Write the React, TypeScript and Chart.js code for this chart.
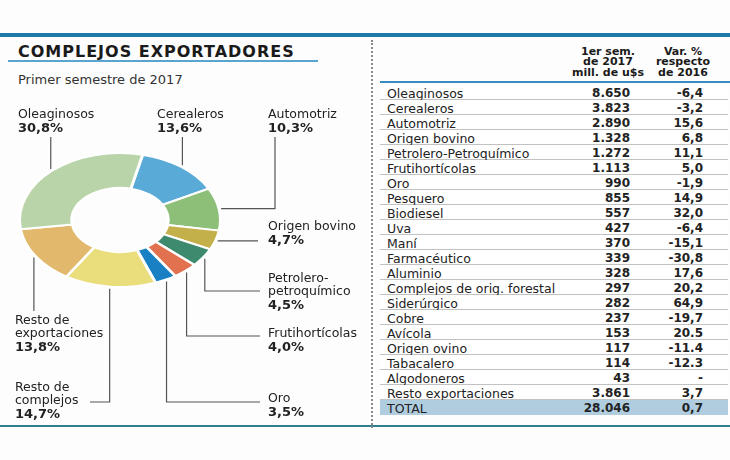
import React, { useEffect, useRef } from "react";
import { Chart, registerables } from "chart.js";

Chart.register(...registerables);

// ---------- DATA ----------
const sliceNames: string[][] = [
  ["Cerealeros"],
  ["Automotriz"],
  ["Origen bovino"],
  ["Petrolero-", "petroquímico"],
  ["Frutihortícolas"],
  ["Oro"],
  ["Resto de", "complejos"],
  ["Resto de", "exportaciones"],
  ["Oleaginosos"],
];
const sliceShares: number[] = [13.6, 10.3, 4.7, 4.5, 4.0, 3.5, 14.7, 13.8, 30.8];

const tableNames: string[] = [
  "Oleaginosos", "Cerealeros", "Automotriz", "Origen bovino", "Petrolero-Petroquímico",
  "Frutihortícolas", "Oro", "Pesquero", "Biodiesel", "Uva", "Maní", "Farmacéutico",
  "Aluminio", "Complejos de orig. forestal", "Siderúrgico", "Cobre", "Avícola",
  "Origen ovino", "Tabacalero", "Algodoneros", "Resto exportaciones",
];
const tableValues: number[] = [
  8650, 3823, 2890, 1328, 1272, 1113, 990, 855, 557, 427, 370, 339, 328, 297, 282,
  237, 153, 117, 114, 43, 3861,
];
const tableVar: string[] = [
  "-6,4", "-3,2", "15,6", "6,8", "11,1", "5,0", "-1,9", "14,9", "32,0", "-6,4", "-15,1",
  "-30,8", "17,6", "20,2", "64,9", "-19,7", "20.5", "-11.4", "-12.3", "-", "3,7",
];
const totalValue = 28046;
const totalVar = "0,7";

const headerCol1: string[] = ["1er sem.", "de 2017", "mill. de u$s"];
const headerCol2: string[] = ["Var. %", "respecto", "de 2016"];

// ---------- STYLE / LAYOUT ----------
const sliceColors = [
  "#5aaad8", "#8ebf78", "#c4b04a", "#3d8a6e", "#e2714f", "#1a80c4", "#e9dd7c", "#e2b96c", "#b8d4a8",
];
const FONT = '"DejaVu Sans", sans-serif';
const SQUASH = 0.667;

type Lay = { x: number; y: number; route: string; a?: number; b?: number };
const labelLayout: Lay[] = [
  { x: 157, y: 115, route: "up", a: 137 },
  { x: 268, y: 115, route: "rightUp", a: 275, b: 137 },
  { x: 268, y: 227, route: "right", a: 258 },
  { x: 268, y: 279, route: "downRight", a: 291, b: 260 },
  { x: 268, y: 334, route: "downRight", a: 336, b: 260 },
  { x: 268, y: 399, route: "downRight", a: 402, b: 260 },
  { x: 15, y: 388, route: "downLeft", a: 402, b: 90 },
  { x: 15, y: 321, route: "down", a: 311 },
  { x: 18, y: 115, route: "up", a: 137 },
];

const fmtThousands = (v: number) => v.toString().replace(/\B(?=(\d{3})+(?!\d))/g, ".");
const fmtPct = (v: number) => v.toFixed(1).replace(".", ",") + "%";

const ellipsePlugin = {
  id: "ellipseLabels",
  beforeDatasetsDraw(chart: any) {
    const arc = chart.getDatasetMeta(0).data[0];
    const ctx = chart.ctx;
    ctx.save();
    ctx.translate(arc.x, arc.y);
    ctx.scale(1, SQUASH);
    ctx.translate(-arc.x, -arc.y);
  },
  afterDatasetsDraw(chart: any) {
    const ctx = chart.ctx;
    ctx.restore();
    const arcs = chart.getDatasetMeta(0).data;
    ctx.save();
    ctx.strokeStyle = "#555";
    ctx.lineWidth = 1.2;
    arcs.forEach((arc: any, i: number) => {
      const lay = labelLayout[i];
      const mid = (arc.startAngle + arc.endAngle) / 2;
      const R = arc.outerRadius;
      const ax = arc.x + Math.cos(mid) * (R + 2);
      const ay = arc.y + Math.sin(mid) * (R * SQUASH + 2);
      ctx.beginPath();
      if (lay.route === "up") {
        ctx.moveTo(ax, ay);
        ctx.lineTo(ax, lay.a!);
      } else if (lay.route === "rightUp") {
        ctx.moveTo(ax, ay);
        ctx.lineTo(lay.a!, ay);
        ctx.lineTo(lay.a!, lay.b!);
      } else if (lay.route === "right") {
        ctx.moveTo(ax, ay);
        ctx.lineTo(lay.a!, ay);
      } else if (lay.route === "downRight" || lay.route === "downLeft") {
        ctx.moveTo(ax, ay);
        ctx.lineTo(ax, lay.a!);
        ctx.lineTo(lay.b!, lay.a!);
      } else if (lay.route === "down") {
        ctx.moveTo(ax, ay);
        ctx.lineTo(ax, lay.a!);
      }
      ctx.stroke();

      ctx.fillStyle = "#222";
      ctx.textBaseline = "middle";
      ctx.textAlign = "left";
      const names = sliceNames[i];
      let y = lay.y;
      ctx.font = `12.5px ${FONT}`;
      names.forEach((n) => {
        ctx.fillText(n, lay.x, y);
        y += 12.5;
      });
      ctx.font = `bold 13px ${FONT}`;
      ctx.fillText(fmtPct(sliceShares[i]), lay.x, y + 1.5);
    });
    ctx.restore();
  },
};

export default function App() {
  const ref = useRef<HTMLCanvasElement>(null);
  useEffect(() => {
    if (!ref.current) return;
    const chart = new Chart(ref.current, {
      type: "doughnut",
      data: {
        labels: sliceNames.map((n) => n.join(" ")),
        datasets: [
          {
            data: sliceShares,
            backgroundColor: sliceColors,
            borderColor: "#ffffff",
            borderWidth: 3,
            hoverOffset: 0,
          },
        ],
      },
      options: {
        animation: false,
        responsive: false,
        devicePixelRatio: 1,
        cutout: "48%",
        rotation: 13,
        layout: { padding: { left: 18, right: 148, top: 118, bottom: 108 } },
        plugins: { legend: { display: false }, tooltip: { enabled: false } },
        events: [],
      },
      plugins: [ellipsePlugin],
    });
    return () => chart.destroy();
  }, []);

  const rowTop = 85;
  const rowH = 15;

  return (
    <div
      style={{
        position: "absolute",
        left: 0,
        top: 0,
        width: 730,
        height: 460,
        background: "#fdfdfd",
        fontFamily: FONT,
        color: "#222",
        overflow: "hidden",
      }}
    >
      <div style={{ position: "absolute", left: 0, top: 33, width: 730, height: 4, background: "#1d7aa8" }} />
      <div style={{ position: "absolute", left: 0, top: 425, width: 730, height: 2, background: "#2f7f8f" }} />
      <div style={{ position: "absolute", left: 371, top: 40, height: 388, borderLeft: "2px dotted #8a8a8a" }} />

      <div
        style={{
          position: "absolute",
          left: 18,
          top: 42,
          fontSize: 16,
          fontWeight: 900,
          letterSpacing: 1,
          lineHeight: "20px",
          color: "#1a1a1a",
        }}
      >
        COMPLEJOS EXPORTADORES
      </div>
      <div style={{ position: "absolute", left: 8, top: 60, width: 310, height: 1.5, background: "#5aa5d0" }} />
      <div style={{ position: "absolute", left: 18, top: 72, fontSize: 13, lineHeight: "16px", color: "#333" }}>
        Primer semestre de 2017
      </div>

      <canvas ref={ref} width={370} height={430} style={{ position: "absolute", left: 0, top: 0, width: 370, height: 430 }} />

      {[headerCol1, headerCol2].map((col, ci) => (
        <div
          key={ci}
          style={{
            position: "absolute",
            left: ci === 0 ? 558 : 643,
            top: 47,
            width: ci === 0 ? 100 : 80,
            textAlign: "center",
            fontSize: 11,
            fontWeight: 700,
            lineHeight: "10.3px",
            color: "#1a1a1a",
          }}
        >
          {col.map((t, i) => (
            <div key={i}>{t}</div>
          ))}
        </div>
      ))}
      <div style={{ position: "absolute", left: 380, top: 81, width: 350, height: 2, background: "#3a8cc0" }} />

      {tableNames.map((name, i) => (
        <div
          key={name}
          style={{
            position: "absolute",
            left: 380,
            top: rowTop + i * rowH,
            width: 348,
            height: rowH,
            borderBottom: "1px solid #c2c2c2",
            boxSizing: "border-box",
            background: "#ffffff",
            fontSize: 12.5,
            lineHeight: `${rowH}px`,
          }}
        >
          <span style={{ position: "absolute", left: 7, top: 0.5 }}>{name}</span>
          <span style={{ position: "absolute", right: 98, top: 0.5, fontWeight: 700, fontSize: 12 }}>{fmtThousands(tableValues[i])}</span>
          <span style={{ position: "absolute", right: 25, top: 0.5, fontWeight: 700, fontSize: 12 }}>{tableVar[i]}</span>
        </div>
      ))}
      <div
        style={{
          position: "absolute",
          left: 380,
          top: rowTop + tableNames.length * rowH,
          width: 348,
          height: rowH,
          background: "#b0cde0",
          fontSize: 12.5,
          lineHeight: `${rowH}px`,
        }}
      >
        <span style={{ position: "absolute", left: 7, top: 0.5 }}>TOTAL</span>
        <span style={{ position: "absolute", right: 98, top: 0.5, fontWeight: 700, fontSize: 12 }}>{fmtThousands(totalValue)}</span>
        <span style={{ position: "absolute", right: 25, top: 0.5, fontWeight: 700, fontSize: 12 }}>{totalVar}</span>
      </div>
    </div>
  );
}
